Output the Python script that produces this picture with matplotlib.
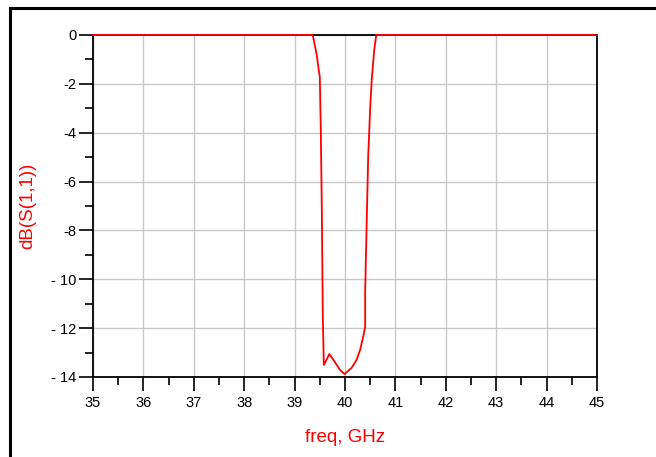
import matplotlib
matplotlib.use("Agg")
import matplotlib.pyplot as plt
from matplotlib.lines import Line2D
from matplotlib.ticker import MultipleLocator

# Data
freq_ghz = [35.0, 39.36, 39.40, 39.44, 39.47, 39.50, 39.52, 39.54, 39.56, 39.58,
            39.69, 39.80, 39.90, 39.99, 40.13, 40.23, 40.30, 40.36, 40.40, 40.40,
            40.43, 40.46, 40.50, 40.53, 40.58, 40.62, 45.0]
db_s11 = [0.0, 0.0, -0.41, -0.82, -1.30, -1.71, -3.89, -7.16, -11.54, -13.51,
          -13.06, -13.39, -13.71, -13.88, -13.63, -13.30, -12.89, -12.36, -11.95, -10.52,
          -7.70, -4.99, -2.99, -1.84, -0.61, 0.0, 0.0]
x_ticks = [35, 36, 37, 38, 39, 40, 41, 42, 43, 44, 45]
y_ticks = [0, -2, -4, -6, -8, -10, -12, -14]
y_tick_labels = ["0", "-2", "-4", "-6", "-8", "- 10", "- 12", "- 14"]

plt.rcParams['font.family'] = ['Liberation Sans', 'DejaVu Sans']

fig = plt.figure(figsize=(6.56, 4.57), dpi=100)
ax = fig.add_axes([93/656, 1 - 377/457, (597 - 93)/656, (377 - 35)/457])

ax.plot(freq_ghz, db_s11, color='#ff0000', lw=1.3, zorder=5, clip_on=False)

ax.set_xlim(35, 45)
ax.set_ylim(-14, 0)
ax.set_xticks(x_ticks)
ax.set_xticklabels([str(t) for t in x_ticks])
ax.set_yticks(y_ticks)
ax.set_yticklabels(y_tick_labels)
ax.xaxis.set_minor_locator(MultipleLocator(0.5))
ax.yaxis.set_minor_locator(MultipleLocator(1))

ax.grid(True, which='major', color='#c8c8c8', lw=1.0)
ax.set_axisbelow(True)

ax.tick_params(which='major', direction='out', length=10, width=1.2, color='black',
               labelsize=10.5, labelcolor='black')
ax.tick_params(axis='y', which='major', pad=2)
ax.tick_params(axis='x', which='major', pad=4)
ax.tick_params(which='minor', direction='out', length=6, width=1.2, color='black')

for s in ax.spines.values():
    s.set_color('black')
    s.set_linewidth(1.3)

ax.set_xlabel('freq, GHz', color='#ff0000', fontsize=13.5)
ax.set_ylabel('dB(S(1,1))', color='#ff0000', fontsize=13.5)
ax.yaxis.set_label_coords(-(93 - 28)/504, 0.5)
ax.xaxis.set_label_coords(0.5, -(437 - 377)/342)
ax.xaxis.label.set_va('center')
ax.yaxis.label.set_va('center')

# Outer frame lines (top and left)
fig.add_artist(Line2D([10/656, 1.0], [1 - 8/457, 1 - 8/457], color='black', lw=2.2,
                      transform=fig.transFigure))
fig.add_artist(Line2D([10/656, 10/656], [0.0, 1 - 8/457], color='black', lw=2.2,
                      transform=fig.transFigure))

fig.savefig('out.png', dpi=100)
